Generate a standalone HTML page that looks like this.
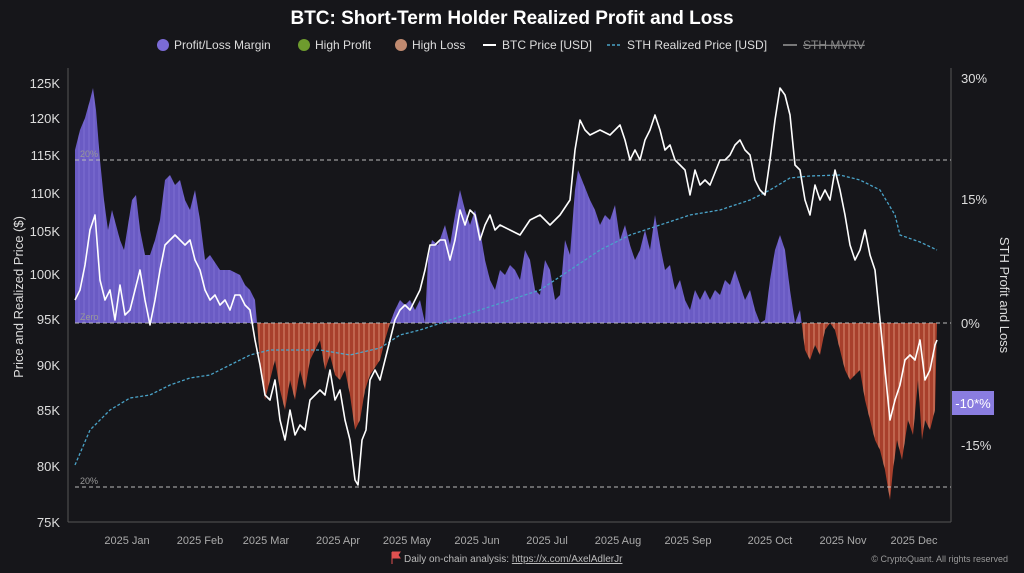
<!DOCTYPE html>
<html><head><meta charset="utf-8"><style>
body{margin:0;background:#16161a;width:1024px;height:568px;overflow:hidden;font-family:"Liberation Sans",sans-serif;}
</style></head><body>
<svg width="1024" height="568" xmlns="http://www.w3.org/2000/svg" font-family="Liberation Sans, sans-serif">
<defs>
<pattern id="rp" width="5" height="10" patternUnits="userSpaceOnUse"><rect width="5" height="10" fill="#a8402c"/><rect x="3.5" width="1" height="10" fill="#d98a70"/></pattern>
<pattern id="pp" width="5" height="10" patternUnits="userSpaceOnUse"><rect width="5" height="10" fill="#6a5bc4"/><rect x="3.5" width="1" height="10" fill="#7d6fd2"/></pattern>
<clipPath id="above"><rect x="0" y="0" width="1024" height="323"/></clipPath>
<clipPath id="below"><rect x="0" y="323" width="1024" height="245"/></clipPath>
</defs>
<rect width="1024" height="568" fill="#16161a"/>
<text x="512" y="24" fill="#fff" font-size="19" font-weight="bold" text-anchor="middle">BTC: Short-Term Holder Realized Profit and Loss</text>
<g font-size="12" fill="#ddd">
<circle cx="163" cy="45" r="6" fill="#7b6bd6"/><text x="174" y="49">Profit/Loss Margin</text>
<circle cx="304" cy="45" r="6" fill="#6e9b2e"/><text x="315" y="49">High Profit</text>
<circle cx="401" cy="45" r="6" fill="#c08a70"/><text x="412" y="49">High Loss</text>
<line x1="483" y1="45" x2="496" y2="45" stroke="#fff" stroke-width="2"/><text x="502" y="49">BTC Price [USD]</text>
<line x1="607" y1="45" x2="621" y2="45" stroke="#4aa3c8" stroke-width="1.5" stroke-dasharray="3,2"/><text x="627" y="49">STH Realized Price [USD]</text>
<line x1="783" y1="45" x2="797" y2="45" stroke="#999" stroke-width="1.5"/><text x="803" y="49" fill="#888" text-decoration="line-through">STH MVRV</text>
</g>
<line x1="68" y1="68" x2="68" y2="522" stroke="#555"/>
<line x1="951" y1="68" x2="951" y2="522" stroke="#555"/>
<line x1="68" y1="522" x2="951" y2="522" stroke="#555"/>
<g id="areas"></g>
<g stroke="#bbb" stroke-dasharray="4,3" stroke-width="1">
<line x1="75" y1="160" x2="951" y2="160"/><line x1="75" y1="323" x2="951" y2="323"/><line x1="75" y1="487" x2="951" y2="487"/>
</g>
<g font-size="9" fill="#999"><text x="80" y="157">20%</text><text x="80" y="320">Zero</text><text x="80" y="484">20%</text></g>
<g id="lines"></g>
<g font-size="13" fill="#ddd" text-anchor="end">
<text x="60" y="88">125K</text><text x="60" y="123">120K</text><text x="60" y="160">115K</text><text x="60" y="198">110K</text><text x="60" y="236">105K</text><text x="60" y="279">100K</text><text x="60" y="324">95K</text><text x="60" y="370">90K</text><text x="60" y="415">85K</text><text x="60" y="471">80K</text><text x="60" y="527">75K</text>
</g>
<g font-size="13" fill="#ddd">
<text x="961" y="83">30%</text><text x="961" y="204">15%</text><text x="961" y="328">0%</text><text x="961" y="450">-15%</text>
</g>
<rect x="952" y="391" width="42" height="24" fill="#8a7de0"/><text x="973" y="408" font-size="13" fill="#fff" text-anchor="middle">-10*%</text>
<text transform="translate(23,297) rotate(-90)" font-size="13" fill="#ddd" text-anchor="middle">Price and Realized Price ($)</text>
<text transform="translate(1000,295) rotate(90)" font-size="13" fill="#ddd" text-anchor="middle">STH Profit and Loss</text>
<g font-size="11" fill="#aaa" text-anchor="middle">
<text x="127" y="544">2025 Jan</text><text x="200" y="544">2025 Feb</text><text x="266" y="544">2025 Mar</text><text x="338" y="544">2025 Apr</text><text x="407" y="544">2025 May</text><text x="477" y="544">2025 Jun</text><text x="547" y="544">2025 Jul</text><text x="618" y="544">2025 Aug</text><text x="688" y="544">2025 Sep</text><text x="770" y="544">2025 Oct</text><text x="843" y="544">2025 Nov</text><text x="914" y="544">2025 Dec</text>
</g>
<path d="M392 552 v12 M392 552 h8 l-2 3 l2 3 h-8" fill="#e05050" stroke="#e05050"/>
<text x="404" y="562" font-size="10" fill="#bbb">Daily on-chain analysis: <tspan text-decoration="underline">https://x.com/AxelAdlerJr</tspan></text>
<text x="1008" y="562" font-size="9" fill="#999" text-anchor="end">© CryptoQuant. All rights reserved</text>
</svg>
<script>
const m=[[75,150],[80,130],[85,118],[90,100],[93,88],[96,110],[100,160],[104,200],[108,230],[112,210],[116,225],[120,240],[124,250],[128,225],[132,200],[136,195],[140,230],[145,255],[150,255],[155,240],[160,220],[165,180],[170,175],[175,185],[180,180],[185,200],[190,210],[195,190],[200,220],[205,260],[210,255],[220,270],[230,270],[240,275],[245,285],[250,290],[255,300],[257,323],[260,360],[265,400],[270,380],[275,360],[280,390],[285,410],[290,380],[295,400],[300,370],[305,390],[310,360],[315,350],[320,340],[325,370],[330,355],[335,375],[340,380],[345,370],[350,395],[355,430],[360,420],[365,390],[370,375],[380,360],[385,340],[390,323],[395,310],[400,300],[405,305],[410,300],[415,310],[420,300],[425,323],[428,260],[432,240],[438,245],[445,225],[450,245],[455,215],[460,190],[465,210],[470,225],[475,210],[480,230],[485,260],[490,280],[495,290],[500,270],[505,275],[510,265],[515,270],[520,280],[525,250],[530,260],[535,290],[540,295],[545,260],[550,270],[555,300],[560,295],[565,240],[570,255],[575,190],[578,170],[582,180],[590,200],[595,210],[600,225],[605,215],[610,220],[615,205],[620,240],[625,225],[630,245],[635,260],[640,250],[645,230],[650,250],[655,215],[660,245],[665,270],[670,265],[675,290],[680,280],[685,300],[690,310],[695,290],[700,300],[705,290],[710,300],[715,290],[720,295],[725,280],[730,285],[735,270],[740,285],[745,300],[750,290],[755,310],[760,323],[765,320],[770,280],[775,250],[780,235],[785,250],[790,290],[795,323],[800,310],[805,350],[810,360],[815,345],[820,355],[825,330],[830,323],[835,330],[840,350],[845,370],[850,380],[855,375],[860,370],[865,400],[870,420],[875,440],[880,450],[885,470],[890,500],[893,470],[897,440],[902,460],[908,420],[913,435],[918,380],[922,440],[925,420],[930,430],[935,410],[937,323]];
const b=[[75,300],[80,290],[85,265],[90,230],[95,215],[100,280],[105,300],[110,290],[115,320],[120,285],[125,315],[130,310],[135,290],[140,270],[145,300],[150,325],[155,300],[160,270],[165,245],[170,240],[175,235],[180,240],[185,245],[190,240],[195,260],[200,270],[205,290],[210,300],[215,295],[220,305],[225,300],[230,310],[235,295],[240,295],[245,305],[250,310],[255,340],[260,365],[265,395],[270,400],[275,380],[280,420],[285,440],[290,410],[295,435],[300,425],[305,430],[310,400],[315,395],[320,390],[325,395],[330,370],[335,400],[340,390],[345,420],[350,440],[355,480],[358,485],[362,440],[366,430],[370,380],[375,370],[380,380],[385,360],[390,340],[395,320],[400,310],[405,305],[410,310],[415,300],[420,290],[425,270],[430,245],[435,245],[440,240],[445,240],[450,260],[455,240],[460,210],[465,225],[470,210],[475,215],[480,240],[485,225],[490,215],[495,230],[500,225],[510,230],[520,235],[530,220],[540,215],[550,225],[560,215],[570,200],[575,150],[580,120],[585,130],[590,135],[600,130],[610,135],[620,125],[625,140],[630,160],[635,150],[640,160],[645,140],[650,130],[655,115],[660,130],[665,150],[670,145],[675,160],[680,165],[685,170],[690,195],[695,170],[700,185],[705,180],[710,185],[720,160],[725,160],[730,155],[735,145],[740,140],[745,150],[750,155],[755,180],[760,190],[765,195],[770,160],[775,120],[780,88],[785,95],[790,115],[795,165],[800,170],[805,200],[810,215],[815,185],[820,200],[825,190],[830,200],[835,170],[840,190],[845,215],[850,245],[855,260],[860,250],[865,230],[870,255],[875,270],[878,300],[882,340],[890,420],[895,400],[900,385],[905,360],[910,355],[915,360],[920,340],[925,380],[930,370],[935,345],[937,340]];
const s=[[75,465],[90,430],[110,410],[130,398],[150,395],[170,385],[190,378],[210,375],[230,365],[250,355],[270,350],[290,350],[320,350],[350,355],[380,348],[400,335],[420,330],[450,320],[480,310],[510,300],[540,290],[570,270],[600,250],[630,235],[660,225],[690,215],[720,210],[750,200],[770,190],[790,178],[810,176],[840,175],[860,180],[880,190],[895,215],[900,235],[920,242],[937,250]];
const P=a=>a.map(p=>p.join(',')).join(' ');
const area='75,323 '+P(m)+' 937,323';
document.getElementById('areas').innerHTML=
`<polygon points="${area}" fill="url(#pp)" clip-path="url(#above)"/><polygon points="${area}" fill="url(#rp)" clip-path="url(#below)"/>`;
document.getElementById('lines').innerHTML=
`<polyline points="${P(s)}" fill="none" stroke="#4aa3c8" stroke-width="1.3" stroke-dasharray="3,2"/><polyline points="${P(b)}" fill="none" stroke="#fff" stroke-width="1.6" stroke-linejoin="round"/>`;
</script>
</body></html>
